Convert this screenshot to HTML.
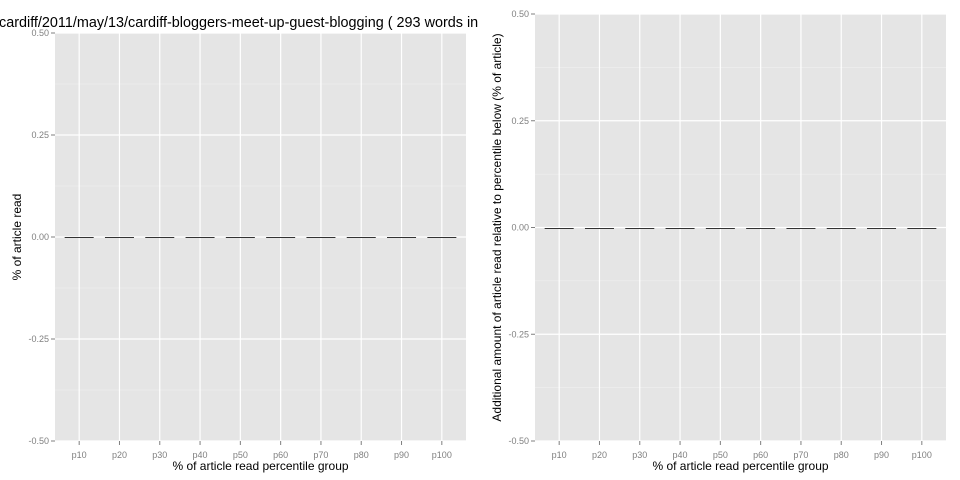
<!DOCTYPE html>
<html><head><meta charset="utf-8"><style>
body{margin:0;background:#fff}
svg{display:block;font-family:"Liberation Sans",sans-serif}
</style></head><body>
<svg id="c" width="960" height="480"></svg>
<script>
const categories=["p10","p20","p30","p40","p50","p60","p70","p80","p90","p100"];
const leftValues=[0,0,0,0,0,0,0,0,0,0];
const rightValues=[0,0,0,0,0,0,0,0,0,0];
const yTicks=[-0.5,-0.25,0,0.25,0.5];
const yTickLabels=["-0.50","-0.25","0.00","0.25","0.50"];
const NS="http://www.w3.org/2000/svg";
const svg=document.getElementById('c');
function mk(t,a,p){const e=document.createElementNS(NS,t);for(const k in a)e.setAttribute(k,a[k]);(p||svg).appendChild(e);return e;}
function panel(name,x0,x1,y0,y1,vals,ylab,ylabX){
  const g=mk('g',{});
  
  
  const n=categories.length, unit=(x1-x0)/(n-1+1.2);
  const xs=i=>x0+(0.6+i)*unit;
  const ys=v=>y1-(v+0.5)/1*(y1-y0);
  const bg=mk('rect',{x:x0,y:y0,width:x1-x0,height:y1-y0,fill:'#e5e5e5'},g);
  
  
  for(let i=0;i<yTicks.length-1;i++){const m=(yTicks[i]+yTicks[i+1])/2;
    mk('line',{x1:x0,x2:x1,y1:ys(m),y2:ys(m),stroke:'#f2f2f2','stroke-width':0.6},g);}
  yTicks.forEach((t,i)=>{
    mk('line',{x1:x0,x2:x1,y1:ys(t),y2:ys(t),stroke:'#fff','stroke-width':1.2},g);
    mk('line',{x1:x0-4,x2:x0,y1:ys(t),y2:ys(t),stroke:'#7f7f7f','stroke-width':1},g);
    const tx=mk('text',{x:x0-6,y:ys(t)+3,'text-anchor':'end','font-size':9,fill:'#7f7f7f'},g);
    tx.textContent=yTickLabels[i];
    
    
  });
  categories.forEach((c,i)=>{
    mk('line',{x1:xs(i),x2:xs(i),y1:y0,y2:y1,stroke:'#fff','stroke-width':1.2},g);
    mk('line',{x1:xs(i),x2:xs(i),y1:y1,y2:y1+4,stroke:'#7f7f7f','stroke-width':1},g);
    const tx=mk('text',{x:xs(i),y:y1+17,'text-anchor':'middle','font-size':9,fill:'#7f7f7f'},g);
    tx.textContent=c;
    
    
  });
  vals.forEach((v,i)=>{
    const h=Math.abs(ys(v)-ys(0));
    const top=Math.round(Math.min(ys(v),ys(0)));
    const b=mk('rect',{x:xs(i)-unit*0.36,y:top,width:unit*0.72,height:Math.max(Math.round(h),1),fill:'#333'},g);
    
    
  });
  const xt=mk('text',{x:(x0+x1)/2,y:y1+29,'text-anchor':'middle','font-size':12,fill:'#000'},g);
  xt.textContent='% of article read percentile group';
  
  
  const yt=mk('text',{x:0,y:0,'text-anchor':'middle','font-size':12,fill:'#000',transform:`translate(${ylabX},${(y0+y1)/2}) rotate(-90)`},g);
  yt.textContent=ylab;
  
  
}
panel('left-panel',55,466,33,441,leftValues,'% of article read',21);
panel('right-panel',535,946,14,441,rightValues,'Additional amount of article read relative to percentile below (% of article)',501);
const t=mk('text',{x:-1,y:27,'font-size':14.4,fill:'#000'});
t.textContent='cardiff/2011/may/13/cardiff-bloggers-meet-up-guest-blogging ( 293 words in';


</script>
</body></html>
